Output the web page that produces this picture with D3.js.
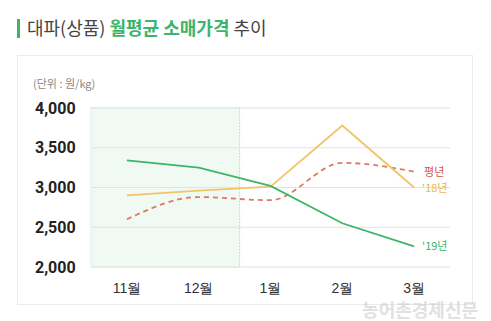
<!DOCTYPE html>
<html>
<head>
<meta charset="utf-8">
<style>
body { margin: 0; background: #fff; }
svg { font-family: "Noto Sans CJK KR", "Noto Sans", sans-serif; }
</style>
</head>
<body>
<script src="https://cdn.jsdelivr.net/npm/d3@7"></script>
<script>
// 대파(상품) 월평균 소매가격 (원/kg)
var months = ["11월", "12월", "1월", "2월", "3월"];
var y19 = [3340, 3250, 3020, 2550, 2260];
var y18 = [2900, 2960, 3010, 3780, 3000];
var avgYear = [2600, 2880, 2840, 3310, 3200];
var yTicks = [2000, 2500, 3000, 3500, 4000];

var W = 491, H = 321;
var margin = {top: 108, right: 41, bottom: 54, left: 91};

var svg = d3.select("body").append("svg")
    .attr("width", W)
    .attr("height", H);

// title
svg.append("rect").attr("x", 17).attr("y", 19).attr("width", 3).attr("height", 19).attr("fill", "#3cb46a");
var title = svg.append("text").attr("x", 27).attr("y", 35).attr("font-size", 18);
title.append("tspan").attr("fill", "#444").text("대파(상품) ");
title.append("tspan").attr("fill", "#3cb46a").attr("font-weight", "bold").text("월평균 소매가격");
title.append("tspan").attr("fill", "#444").text(" 추이");

// card
svg.append("rect").attr("x", 17.5).attr("y", 55.5).attr("width", 455).attr("height", 249)
    .attr("fill", "#fff").attr("stroke", "#ececec");

var x = d3.scaleBand().domain(months).range([margin.left, W - margin.right]);
var y = d3.scaleLinear().domain([2000, 4000]).range([H - margin.bottom, margin.top]);

// shaded past-months area
svg.append("rect")
    .attr("x", margin.left).attr("y", y(4000))
    .attr("width", x("1월") + 5 - margin.left).attr("height", y(2000) - y(4000))
    .attr("fill", "#f1faf2").attr("stroke", "#e0efe3");
svg.append("line")
    .attr("x1", x("1월") + 5).attr("x2", x("1월") + 5)
    .attr("y1", y(4000)).attr("y2", y(2000))
    .attr("stroke", "#c9d6cc").attr("stroke-dasharray", "1,2");

// grid
svg.append("g").selectAll("line").data(yTicks).join("line")
    .attr("x1", margin.left).attr("x2", W - margin.right)
    .attr("y1", d => y(d)).attr("y2", d => y(d))
    .attr("stroke", "#e2e2e2").attr("stroke-width", 1.2);

// y axis labels
var yAxis = svg.append("g").attr("transform", "translate(35,0)")
    .call(d3.axisRight(y).tickValues(yTicks).tickSize(0).tickFormat(d3.format(",")));
yAxis.select(".domain").remove();
yAxis.selectAll("text").attr("x", 0).attr("font-size", 16).attr("font-weight", "bold")
    .attr("fill", "#222").attr("font-family", "Roboto, sans-serif");

svg.append("text").attr("x", 33).attr("y", 88).attr("font-size", 11).attr("fill", "#888")
    .text("(단위 : 원/kg)");

// x axis
var xAxis = svg.append("g").attr("transform", "translate(0," + (y(2000) + 13) + ")")
    .call(d3.axisBottom(x).tickSize(0));
xAxis.select(".domain").remove();
xAxis.selectAll("text").attr("font-size", 14).attr("fill", "#333").attr("font-weight", 500);

var cx = d => x(d) + x.bandwidth() / 2;

function drawLine(vals, color, curve, dash) {
  var line = d3.line().x((d, i) => cx(months[i])).y(d => y(d)).curve(curve);
  svg.append("path").datum(vals)
      .attr("d", line)
      .attr("fill", "none")
      .attr("stroke", color)
      .attr("stroke-width", 1.8)
      .attr("stroke-dasharray", dash);
}

drawLine(avgYear, "#de7a5a", d3.curveMonotoneX, "5,4");
drawLine(y18, "#f2c46a", d3.curveLinear, null);
drawLine(y19, "#3cb46a", d3.curveLinear, null);

// series labels
var lx = cx("3월") + 8;
svg.append("text").attr("x", lx + 2).attr("y", y(avgYear[4]) + 4).attr("font-size", 11).attr("fill", "#d9534f").text("평년");
svg.append("text").attr("x", lx).attr("y", y(y18[4]) + 4).attr("font-size", 11).attr("fill", "#e8b84e").text("'18년");
svg.append("text").attr("x", lx).attr("y", y(y19[4]) + 4).attr("font-size", 11).attr("fill", "#3cb46a").text("'19년");

// watermark
svg.append("text").attr("x", 478).attr("y", 317).attr("text-anchor", "end")
    .attr("font-size", 18).attr("font-weight", "bold").attr("fill", "#c4c4c4").attr("opacity", 0.5)
    .text("농어촌경제신문");
</script>
</body>
</html>
